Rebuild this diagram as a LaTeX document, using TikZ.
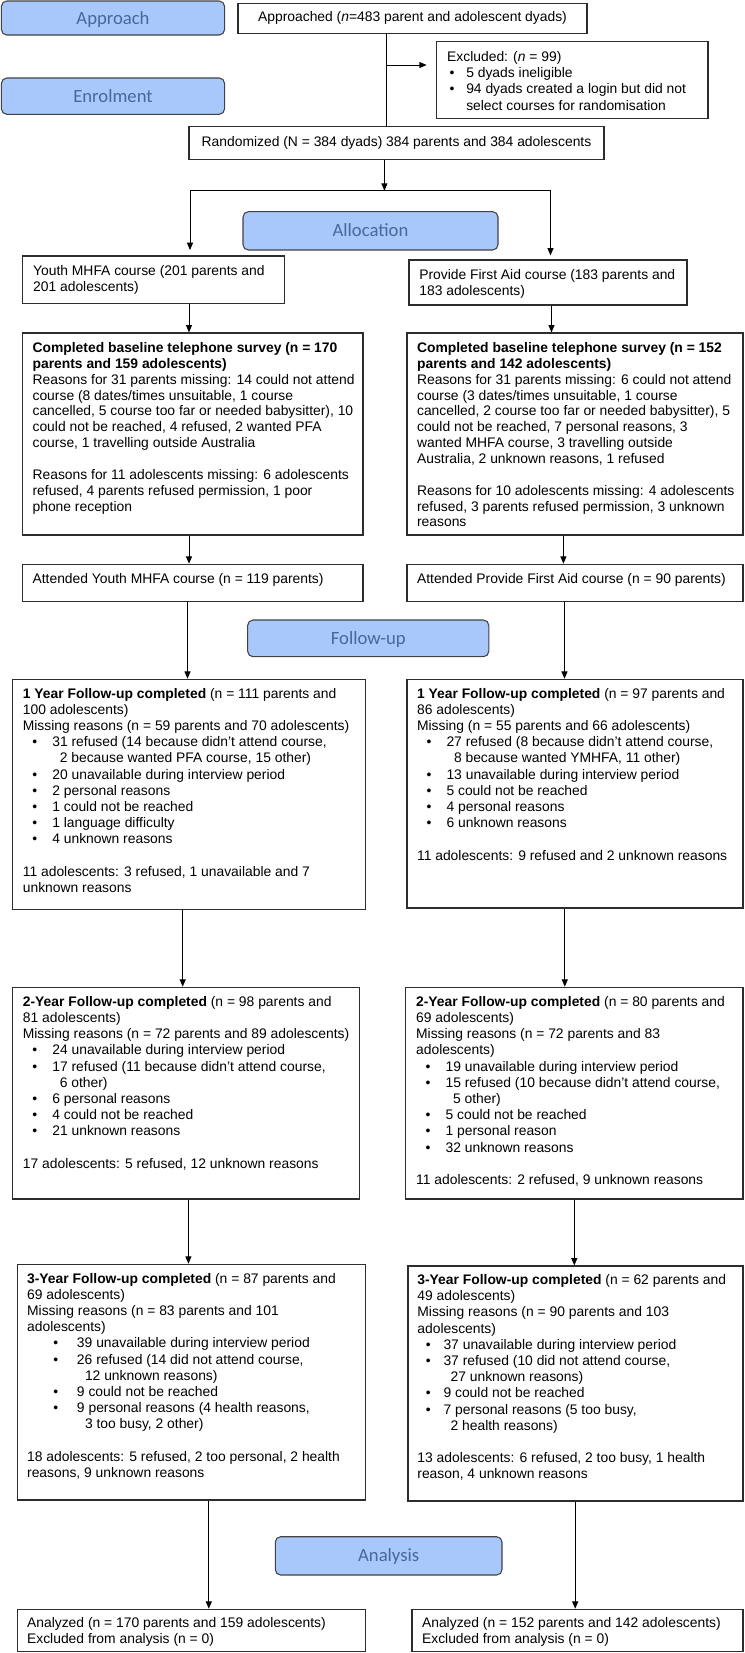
\documentclass[tikz,border=0pt]{standalone}
\usepackage{fontspec}
\setmainfont{Liberation Sans}
\newfontfamily\lblfont{Carlito}
\usetikzlibrary{fit,arrows.meta}
\definecolor{lblfill}{RGB}{168,199,250}
\definecolor{lbltext}{RGB}{70,104,156}
\definecolor{bord}{RGB}{45,45,45}
\newcommand\bl[3]{\makebox[#2][l]{\hspace*{#1}\textbullet}#3}
\newcommand\tx[1]{\begin{minipage}[t]{330pt}\raggedright\strut #1\end{minipage}}
\begin{document}
\begin{tikzpicture}[x=0.75pt,y=-0.75pt,
  box/.style={draw=bord, line width=0.9pt, inner sep=0pt, fill=white, font=\fontsize{10.4}{12.15}\selectfont},
  sz/.style 2 args={minimum width=#1*0.75pt, minimum height=#2*0.75pt},
  lbl/.style={draw=bord!90, line width=0.8pt, rounded corners=4pt, fill=lblfill, inner sep=0pt, font=\lblfont\fontsize{14}{16}\selectfont, text=lbltext, text height=9pt, text depth=0pt},
  txt/.style={anchor=north west, inner sep=0pt, font=\fontsize{10.4}{12.15}\selectfont},
  txtb/.style={txt, font=\fontsize{10.4}{11.9}\selectfont},
  conn/.style={draw=black, line width=0.75pt},
  arr/.style={conn, -{Triangle[length=5.5pt,width=4.5pt]}}]
\useasboundingbox (0,0) rectangle (744,1653);

% phase labels
\node[lbl, sz={223.1}{34}] (lapproach) at (113,18) {Approach};
\node[lbl, sz={223.1}{36.3}] (lenrol) at (113,96.15) {Enrolment};
\node[lbl, sz={255}{38.3}] (lalloc) at (370.5,230.85) {Allocation};
\node[lbl, sz={241.1}{36.7}] (lfollow) at (368.25,638.35) {Follow-up};
\node[lbl, sz={226.7}{38.3}] (lanalysis) at (388.65,1555.85) {Analysis};

% boxes
\node[box, sz={349}{30}] (approached) at (412.5,18.3) {Approached (\textit{n}=483 parent and adolescent dyads)};
\node[box, fit={(436.6,41.7) (708,118.3)}] (excluded) {};
\node[box, sz={415}{32.6}] (randomized) at (396.5,143) {Randomized (N = 384 dyads) 384 parents and 384 adolescents};
\node[box, fit={(22.8,256) (284.8,303.3)}] (youth) {};
\node[box, fit={(409,260) (687,305)}] (pfa) {};
\node[box, fit={(22.8,333) (363,535)}] (base1) {};
\node[box, fit={(407,333) (743,535)}] (base2) {};
\node[box, fit={(22.8,564.3) (363,601.7)}] (att1) {};
\node[box, fit={(407,564.3) (743,601.7)}] (att2) {};
\node[box, fit={(12.8,679.3) (365.4,909.3)}] (y1a) {};
\node[box, fit={(407,679.3) (743,908)}] (y1b) {};
\node[box, fit={(12.8,987.3) (359.3,1199)}] (y2a) {};
\node[box, fit={(405.8,987.3) (743,1199)}] (y2b) {};
\node[box, fit={(17.6,1264.3) (365.4,1500)}] (y3a) {};
\node[box, fit={(408,1266) (743,1501)}] (y3b) {};
\node[box, fit={(17.6,1609.3) (365.4,1651.7)}] (an1) {};
\node[box, fit={(412,1609.3) (743,1651.7)}] (an2) {};

% texts
\node[txt] (texcl) at ([shift={(8.2pt,-6.6pt)}]excluded.north west) {\tx{Excluded: (\textit{n} = 99)\\
\bl{1.8pt}{14.3pt}{5 dyads ineligible}\\
\bl{1.8pt}{14.3pt}{94 dyads created a login but did not}\\
\hspace*{14.3pt}select courses for randomisation}};

\node[txt] (tyouth) at ([shift={(8pt,-6.3pt)}]youth.north west) {\tx{Youth MHFA course (201 parents and\\201 adolescents)}};
\node[txt] (tpfa) at ([shift={(8pt,-6pt)}]pfa.north west) {\tx{Provide First Aid course (183 parents and\\183 adolescents)}};

\node[txtb] (tbase1) at ([shift={(7.6pt,-6.5pt)}]base1.north west) {\tx{\textbf{Completed baseline telephone survey (n = 170}\\
\textbf{parents and 159 adolescents)}\\
Reasons for 31 parents missing: 14 could not attend\\
course (8 dates/times unsuitable, 1 course\\
cancelled, 5 course too far or needed babysitter), 10\\
could not be reached, 4 refused, 2 wanted PFA\\
course, 1 travelling outside Australia\\[11.9pt]
Reasons for 11 adolescents missing: 6 adolescents\\
refused, 4 parents refused permission, 1 poor\\
phone reception}};

\node[txtb] (tbase2) at ([shift={(7.8pt,-6.5pt)}]base2.north west) {\tx{\textbf{Completed baseline telephone survey (n = 152}\\
\textbf{parents and 142 adolescents)}\\
Reasons for 31 parents missing: 6 could not attend\\
course (3 dates/times unsuitable, 1 course\\
cancelled, 2 course too far or needed babysitter), 5\\
could not be reached, 7 personal reasons, 3\\
wanted MHFA course, 3 travelling outside\\
Australia, 2 unknown reasons, 1 refused\\[11.9pt]
Reasons for 10 adolescents missing: 4 adolescents\\
refused, 3 parents refused permission, 3 unknown\\
reasons}};

\node[txt] (tatt1) at ([shift={(7.6pt,-5.8pt)}]att1.north west) {\tx{Attended Youth MHFA course (n = 119 parents)}};
\node[txt] (tatt2) at ([shift={(7.8pt,-5.8pt)}]att2.north west) {\tx{Attended Provide First Aid course (n = 90 parents)}};

\node[txt] (ty1a) at ([shift={(7.8pt,-5.8pt)}]y1a.north west) {\tx{\textbf{1 Year Follow-up completed} (n = 111 parents and\\
100 adolescents)\\
Missing reasons (n = 59 parents and 70 adolescents)\\
\bl{7.1pt}{22.1pt}{31 refused (14 because didn’t attend course,}\\
\hspace*{27.7pt}2 because wanted PFA course, 15 other)\\
\bl{7.1pt}{22.1pt}{20 unavailable during interview period}\\
\bl{7.1pt}{22.1pt}{2 personal reasons}\\
\bl{7.1pt}{22.1pt}{1 could not be reached}\\
\bl{7.1pt}{22.1pt}{1 language difficulty}\\
\bl{7.1pt}{22.1pt}{4 unknown reasons}\\[12.15pt]
11 adolescents: 3 refused, 1 unavailable and 7\\
unknown reasons}};

\node[txt] (ty1b) at ([shift={(7.8pt,-5.8pt)}]y1b.north west) {\tx{\textbf{1 Year Follow-up completed} (n = 97 parents and\\
86 adolescents)\\
Missing (n = 55 parents and 66 adolescents)\\
\bl{7.1pt}{22.1pt}{27 refused (8 because didn’t attend course,}\\
\hspace*{27.7pt}8 because wanted YMHFA, 11 other)\\
\bl{7.1pt}{22.1pt}{13 unavailable during interview period}\\
\bl{7.1pt}{22.1pt}{5 could not be reached}\\
\bl{7.1pt}{22.1pt}{4 personal reasons}\\
\bl{7.1pt}{22.1pt}{6 unknown reasons}\\[12.15pt]
11 adolescents: 9 refused and 2 unknown reasons}};

\node[txt] (ty2a) at ([shift={(7.8pt,-6pt)}]y2a.north west) {\tx{\textbf{2-Year Follow-up completed} (n = 98 parents and\\
81 adolescents)\\
Missing reasons (n = 72 parents and 89 adolescents)\\
\bl{7.1pt}{22.1pt}{24 unavailable during interview period}\\
\bl{7.1pt}{22.1pt}{17 refused (11 because didn’t attend course,}\\
\hspace*{27.7pt}6 other)\\
\bl{7.1pt}{22.1pt}{6 personal reasons}\\
\bl{7.1pt}{22.1pt}{4 could not be reached}\\
\bl{7.1pt}{22.1pt}{21 unknown reasons}\\[12.15pt]
17 adolescents: 5 refused, 12 unknown reasons}};

\node[txt] (ty2b) at ([shift={(8pt,-6pt)}]y2b.north west) {\tx{\textbf{2-Year Follow-up completed} (n = 80 parents and\\
69 adolescents)\\
Missing reasons (n = 72 parents and 83\\
adolescents)\\
\bl{7.1pt}{22.1pt}{19 unavailable during interview period}\\
\bl{7.1pt}{22.1pt}{15 refused (10 because didn't attend course,}\\
\hspace*{27.7pt}5 other)\\
\bl{7.1pt}{22.1pt}{5 could not be reached}\\
\bl{7.1pt}{22.1pt}{1 personal reason}\\
\bl{7.1pt}{22.1pt}{32 unknown reasons}\\[12.15pt]
11 adolescents: 2 refused, 9 unknown reasons}};

\node[txt] (ty3a) at ([shift={(7.4pt,-5.8pt)}]y3a.north west) {\tx{\textbf{3-Year Follow-up completed} (n = 87 parents and\\
69 adolescents)\\
Missing reasons (n = 83 parents and 101\\
adolescents)\\
\bl{19.6pt}{37.4pt}{39 unavailable during interview period}\\
\bl{19.6pt}{37.4pt}{26 refused (14 did not attend course,}\\
\hspace*{43.4pt}12 unknown reasons)\\
\bl{19.6pt}{37.4pt}{9 could not be reached}\\
\bl{19.6pt}{37.4pt}{9 personal reasons (4 health reasons,}\\
\hspace*{43.4pt}3 too busy, 2 other)\\[12.15pt]
18 adolescents: 5 refused, 2 too personal, 2 health\\
reasons, 9 unknown reasons}};

\node[txt] (ty3b) at ([shift={(7.3pt,-5.6pt)}]y3b.north west) {\tx{\textbf{3-Year Follow-up completed} (n = 62 parents and\\
49 adolescents)\\
Missing reasons (n = 90 parents and 103\\
adolescents)\\
\bl{6.4pt}{19.6pt}{37 unavailable during interview period}\\
\bl{6.4pt}{19.6pt}{37 refused (10 did not attend course,}\\
\hspace*{24.9pt}27 unknown reasons)\\
\bl{6.4pt}{19.6pt}{9 could not be reached}\\
\bl{6.4pt}{19.6pt}{7 personal reasons (5 too busy,}\\
\hspace*{24.9pt}2 health reasons)\\[12.15pt]
13 adolescents: 6 refused, 2 too busy, 1 health\\
reason, 4 unknown reasons}};

\node[txt, font=\fontsize{10.4}{11.6}\selectfont] (tan1) at ([shift={(7.4pt,-6pt)}]an1.north west) {\tx{Analyzed (n = 170 parents and 159 adolescents)\\Excluded from analysis (n = 0)}};
\node[txt, font=\fontsize{10.4}{11.6}\selectfont] (tan2) at ([shift={(7.8pt,-6pt)}]an2.north west) {\tx{Analyzed (n = 152 parents and 142 adolescents)\\Excluded from analysis (n = 0)}};

% connector coordinates
\coordinate (xA) at (386.8,65);
\coordinate (xJ) at (384.4,190.7);
\coordinate (xJL) at (190,190.7);
\coordinate (xJR) at (550.5,190.7);
\coordinate (xL1) at (189,0);
\coordinate (xL2) at (187.5,0);
\coordinate (xL3) at (182.7,0);
\coordinate (xL4) at (188.4,0);
\coordinate (xL5) at (208.8,0);
\coordinate (xR1) at (551.5,0);
\coordinate (xR2) at (563.4,0);
\coordinate (xR3) at (564.5,0);
\coordinate (xR4) at (564.8,0);
\coordinate (xR5) at (574.3,0);
\coordinate (xR6) at (575.2,0);

% connectors
\draw[conn] (approached.south -| xA) -- (randomized.north -| xA);
\draw[arr, shorten >=7pt] (xA) -- (excluded.west |- xA);
\draw[arr] (randomized.south -| xJ) -- (xJ);
\draw[conn] (xJL) -- (xJR);
\draw[arr, shorten >=4pt] (xJL) -- (youth.north -| xJL);
\draw[arr, shorten >=3pt] (xJR) -- (pfa.north -| xJR);
\draw[arr] (youth.south -| xL1) -- (base1.north -| xL1);
\draw[arr] (pfa.south -| xR1) -- (base2.north -| xR1);
\draw[arr] (base1.south -| xL1) -- (att1.north -| xL1);
\draw[arr] (base2.south -| xR2) -- (att2.north -| xR2);
\draw[arr] (att1.south -| xL2) -- (y1a.north -| xL2);
\draw[arr] (att2.south -| xR3) -- (y1b.north -| xR3);
\draw[arr] (y1a.south -| xL3) -- (y2a.north -| xL3);
\draw[arr] (y1b.south -| xR4) -- (y2b.north -| xR4);
\draw[arr] (y2a.south -| xL4) -- (y3a.north -| xL4);
\draw[arr] (y2b.south -| xR5) -- (y3b.north -| xR5);
\draw[arr] (y3a.south -| xL5) -- (an1.north -| xL5);
\draw[arr] (y3b.south -| xR6) -- (an2.north -| xR6);
\end{tikzpicture}
\end{document}
